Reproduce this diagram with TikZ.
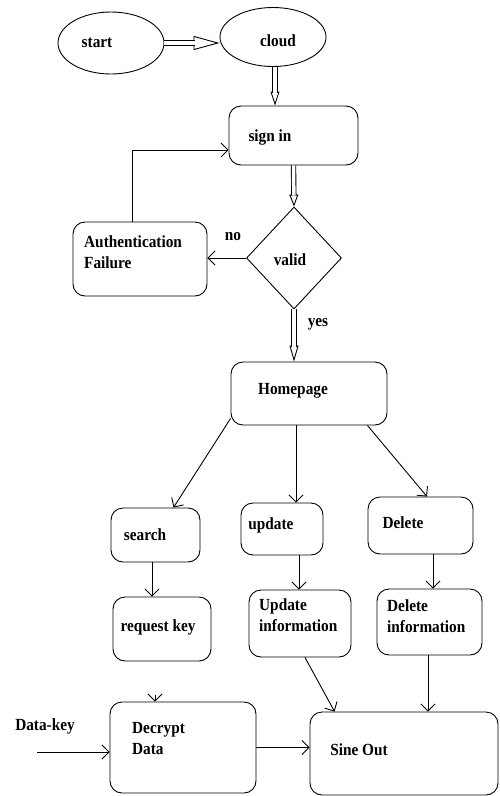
\documentclass[tikz,border=0pt]{standalone}
\usepackage{fontspec}
\setmainfont{Liberation Serif}[FakeStretch=0.9]
\usetikzlibrary{shapes.geometric,arrows.meta,calc}
\tikzset{
 box/.style={draw, rounded corners=12pt, line width=0.9pt, inner sep=0pt},
 ell/.style={draw, ellipse, line width=0.9pt, inner sep=0pt},
 dia/.style={draw, diamond, line width=0.9pt, inner sep=0pt},
 txt/.style={font=\fontsize{17}{21}\selectfont\bfseries, inner sep=0pt, align=left},
 arr/.style={line width=0.9pt, -{Straight Barb[length=7pt,width=14pt]}},
 hshaft/.style={line width=0.9pt, double, double distance=3.5pt},
}
% #1 head length, #2 head width, #3 from, #4 to
\newcommand{\hollowarrow}[4]{\draw[line width=0.9pt, -{Triangle[open,length=#1pt,width=#2pt]}] #3 -- #4; \draw[hshaft] #3 -- ($#4!#1pt-1pt!#3$);}
\begin{document}
\begin{tikzpicture}[x=1pt,y=-1pt]
\useasboundingbox (0,0) rectangle (499,796);
% shapes
\node[ell, minimum width=106pt, minimum height=62pt] (start) at (111,43) {};
\node[ell, minimum width=106pt, minimum height=59pt] (cloud) at (273,37) {};
\node[box, minimum width=129pt, minimum height=59pt] (signin) at (293.5,135.5) {};
\node[box, minimum width=134pt, minimum height=74pt] (auth) at (140,259) {};
\node[dia, minimum width=95pt, minimum height=102pt] (valid) at (294,258) {};
\node[box, minimum width=156pt, minimum height=63pt] (home) at (309,393.5) {};
\node[box, minimum width=89pt, minimum height=54pt] (search) at (155.5,535) {};
\node[box, minimum width=82pt, minimum height=52pt] (update) at (282,529) {};
\node[box, minimum width=105pt, minimum height=57pt] (delete) at (420.5,525.5) {};
\node[box, minimum width=98pt, minimum height=64pt] (reqkey) at (162,629) {};
\node[box, minimum width=102pt, minimum height=67pt] (updinfo) at (300,623.5) {};
\node[box, minimum width=105pt, minimum height=66pt] (delinfo) at (429.5,622) {};
\node[box, minimum width=188pt, minimum height=83pt] (sineout) at (404,753.5) {};
\node[box, minimum width=146pt, minimum height=91pt] (decrypt) at (183,747.5) {};
% texts
\node[txt, anchor=base] (tstart) at (97,47) {start};
\node[txt, anchor=base] (tcloud) at (278,46) {cloud};
\node[txt, anchor=base] (tsignin) at (270,141) {sign in};
\node[txt, anchor=north west] (tauth) at (84,235) {Authentication\\Failure};
\node[txt, anchor=base] (tvalid) at (290,265) {valid};
\node[txt, anchor=base] (tno) at (233,240) {no};
\node[txt, anchor=base] (tyes) at (318,326) {yes};
\node[txt, anchor=base] (thome) at (293,394) {Homepage};
\node[txt, anchor=base] (tsearch) at (145,540) {search};
\node[txt, anchor=base] (tupdate) at (271,529) {update};
\node[txt, anchor=base] (tdelete) at (403,528) {Delete};
\node[txt, anchor=base] (treqkey) at (158,631) {request key};
\node[txt, anchor=north west] (tupdinfo) at (259,598) {Update\\information};
\node[txt, anchor=north west] (tdelinfo) at (387,599) {Delete\\information};
\node[txt, anchor=base] (tsineout) at (359,755) {Sine Out};
\node[txt, anchor=north west] (tdecrypt) at (132,722) {Decrypt\\Data};
\node[txt, anchor=base] (tdatakey) at (45,730) {Data-key};
% hollow arrows
\hollowarrow{26}{14}{(start.east)}{(start.east -| cloud.west)}
\hollowarrow{14}{9}{([xshift=2pt]cloud.south)}{([xshift=2pt]cloud.south |- signin.north)}
\hollowarrow{12}{9}{(signin.south)}{(valid.north)}
\hollowarrow{16}{9}{(valid.south)}{(valid.south |- home.north)}
% plain arrows
\draw[arr] ([xshift=-8pt]auth.north) |- ([yshift=-14.5pt]signin.west);
\draw[arr] (valid.west) -- (valid.west -| auth.east);
\draw[arr] ([yshift=7pt]home.south west) -- ([xshift=18pt]search.north);
\draw[arr] ([xshift=-13pt]home.south) -- ([xshift=-13pt]home.south |- update.north);
\draw[arr] ([xshift=-20pt]home.south east) -- ([xshift=6.5pt]delete.north);
\draw[arr] ([xshift=-3.5pt]search.south) -- ([xshift=-3.5pt]search.south |- reqkey.north);
\draw[arr] ([xshift=17pt]update.south) -- ([xshift=17pt]update.south |- updinfo.north);
\draw[arr] ([xshift=12.5pt]delete.south) -- ([xshift=12.5pt]delete.south |- delinfo.north);
\draw[arr] ([xshift=5pt]updinfo.south) -- ([xshift=25pt]sineout.north west);
\draw[arr] ([xshift=-1.5pt]delinfo.south) -- ([xshift=-1.5pt]delinfo.south |- sineout.north);
\coordinate (dk) at (37,752);
\draw[arr] (dk) -- (dk -| decrypt.west);
\draw[arr] (decrypt.east) -- (decrypt.east -| sineout.west);
\coordinate (stub) at (155,695);
\draw[arr] (stub) -- (stub |- decrypt.north);
\end{tikzpicture}
\end{document}
